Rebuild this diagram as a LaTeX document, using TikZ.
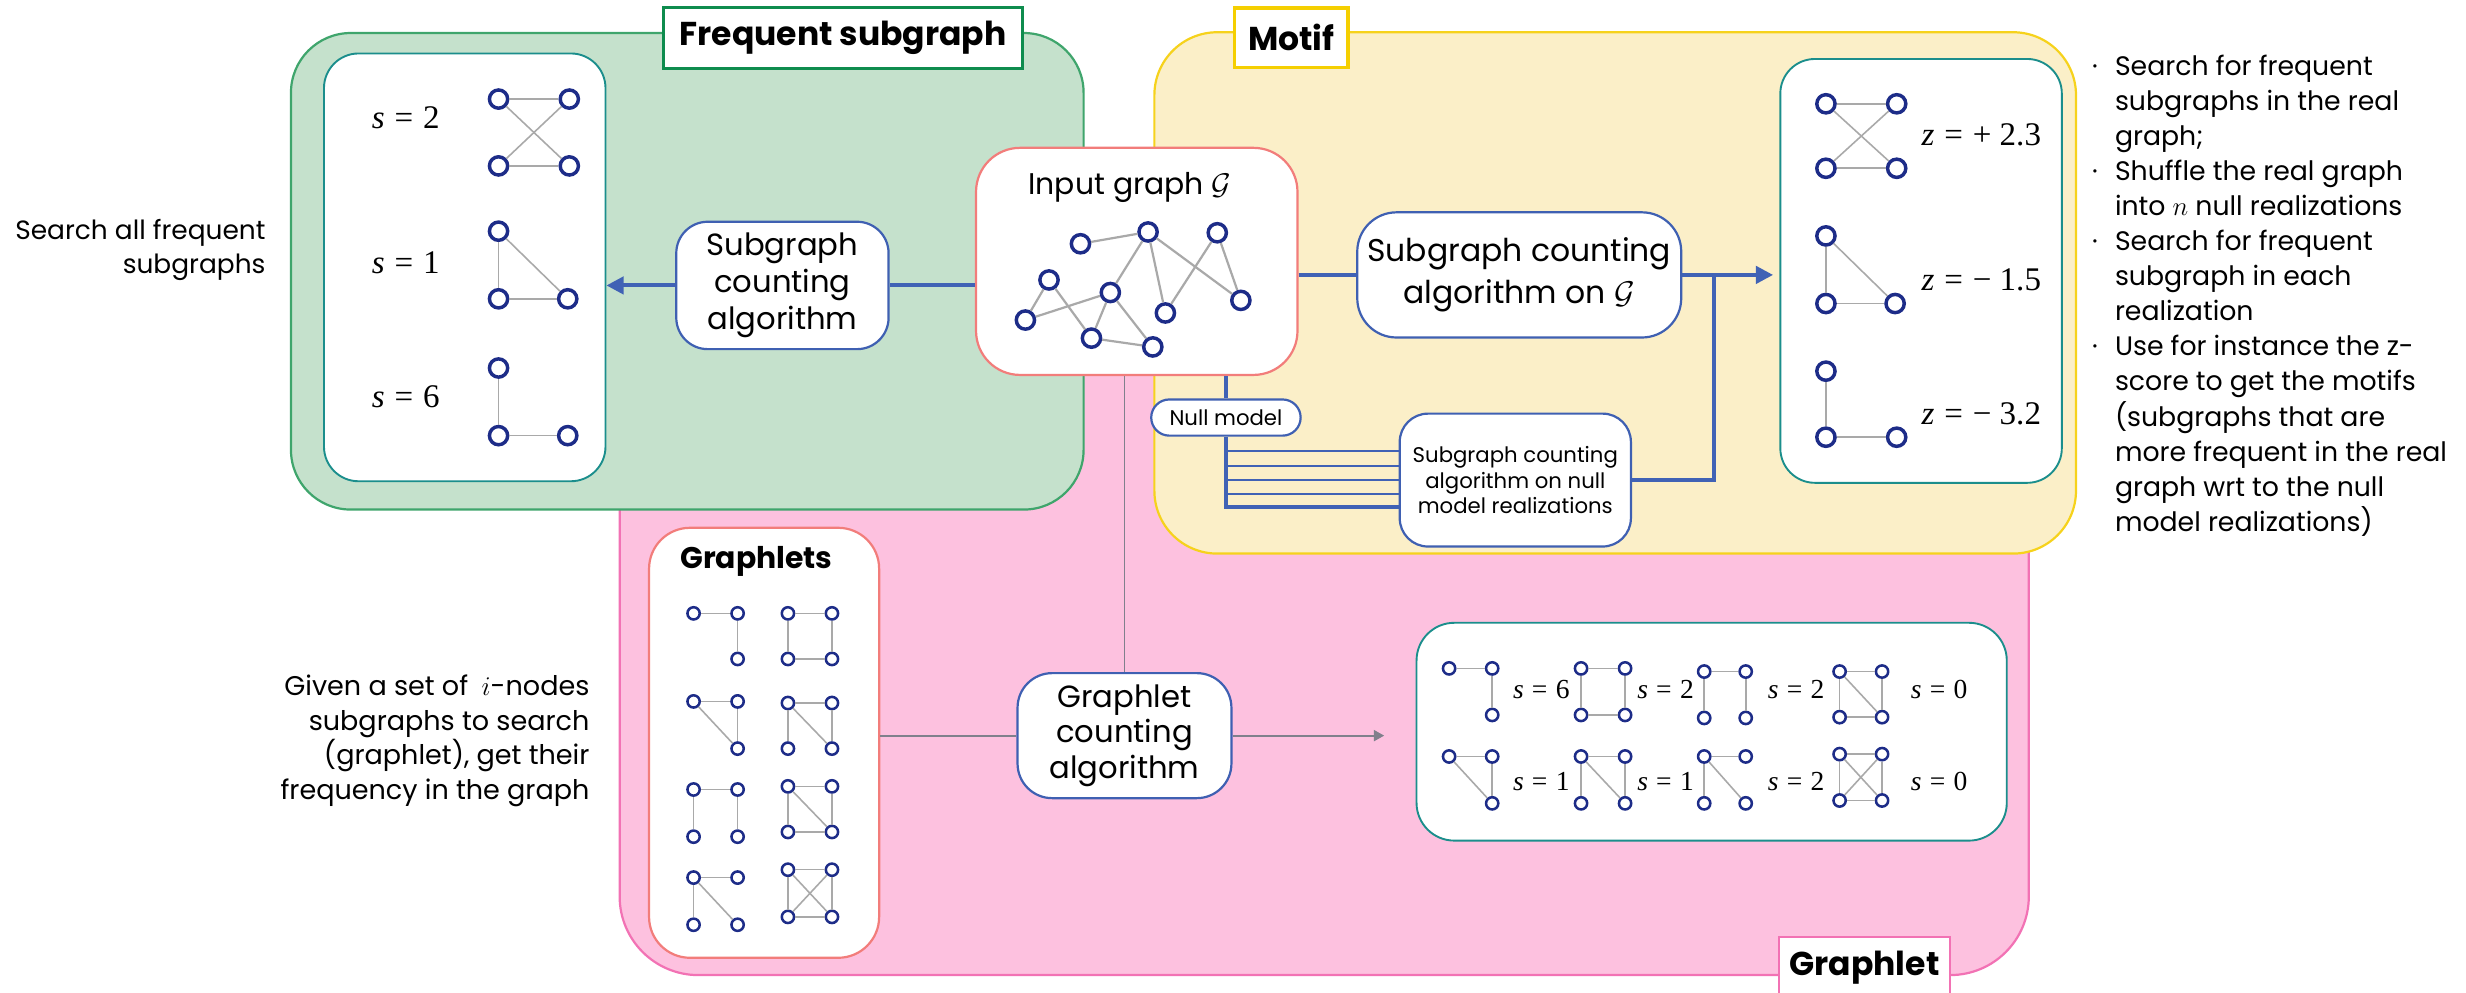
\RequirePackage{fix-cm}
\documentclass[tikz,border=0pt]{standalone}
\usepackage{fontspec}
\setmainfont{Poppins}
\newfontfamily\tms{Liberation Serif}
\usetikzlibrary{arrows.meta}

\definecolor{grfill}{HTML}{C5E1CC}
\definecolor{grline}{HTML}{3FA56C}
\definecolor{grlab}{HTML}{0E8C4E}
\definecolor{yefill}{HTML}{FBEFC8}
\definecolor{yeline}{HTML}{F6D21C}
\definecolor{yelab}{HTML}{F5CF00}
\definecolor{pkfill}{HTML}{FDC1DF}
\definecolor{pkline}{HTML}{F272B4}
\definecolor{cardline}{HTML}{1B8E8C}
\definecolor{salmon}{HTML}{F27D7B}
\definecolor{bluebox}{HTML}{3F60B2}
\definecolor{bluearr}{HTML}{4062B5}
\definecolor{navy}{HTML}{1D2C88}
\definecolor{edgegray}{HTML}{A9A9A9}
\definecolor{linegray}{HTML}{80808C}

% small graph on a 2x2 grid: name, node style, x-left, x-right, y-top, y-bottom, corners, edges
\newcommand\sqgraph[8]{%
  \coordinate (#1a-p) at (#3,#5);
  \coordinate (#1b-p) at (#4,#5);
  \coordinate (#1c-p) at (#3,#6);
  \coordinate (#1d-p) at (#4,#6);
  \foreach \k in {#7} \node[#2] (#1\k) at (#1\k-p) {};
  \foreach \u/\v in {#8} \draw[se] (#1\u) -- (#1\v);
}
% "var = value" set in a Times-like face
\newcommand\eqlab[2]{{\itshape #1}\hspace{0.3em}=\hspace{0.3em}#2}

\tikzset{
  area/.style={rectangle, inner sep=0pt, line width=1.4pt},
  tag/.style={rectangle, draw, fill=white, line width=2.2pt, inner sep=0pt,
    font=\fontsize{21}{24}\selectfont\bfseries},
  card/.style={rectangle, draw=cardline, fill=white, line width=1.2pt, inner sep=0pt},
  stepbox/.style={rectangle, draw=bluebox, fill=white, line width=1.4pt, inner sep=0pt, align=center},
  gn/.style={circle, draw=navy, fill=white, line width=2.2pt, minimum size=11.6pt, inner sep=0pt},
  sn/.style={circle, draw=navy, fill=white, line width=1.6pt, minimum size=7.8pt, inner sep=0pt},
  ge/.style={draw=edgegray, line width=1.4pt},
  se/.style={draw=edgegray, line width=1pt},
  flow/.style={draw=bluearr, line width=2.5pt},
  gline/.style={draw=linegray, line width=1.1pt},
  note/.style={inner sep=0pt, text=black, font=\fontsize{17}{22.3}\selectfont},
  slab/.style={inner sep=0pt, font=\tms\fontsize{21}{24}\selectfont},
  rlab/.style={inner sep=0pt, font=\tms\fontsize{17.5}{20}\selectfont},
  blue tip/.style={-{Triangle[length=11pt,width=11pt]}},
}

\begin{document}
\begin{tikzpicture}[x=1pt,y=-1pt]
\useasboundingbox (0,0) rectangle (1568,631);
\clip (0,0) rectangle (1568,631);

% ---- the three method regions
\node[area, draw=pkline, fill=pkfill, rounded corners=50pt,
  minimum width=896pt, minimum height=500pt] (graphletarea) at (842,370) {};
\node[area, draw=grline, fill=grfill, rounded corners=38pt,
  minimum width=504pt, minimum height=303pt] (fsarea) at (437,172.5) {};
\node[area, draw=yeline, fill=yefill, rounded corners=40pt,
  minimum width=586pt, minimum height=331.5pt] (motifarea) at (1027,186.25) {};

\node[tag, draw=grlab, minimum width=228pt, minimum height=38.8pt] (fslabel) at (536,24.1) {Frequent subgraph};
\node[tag, draw=yelab, minimum width=72pt, minimum height=38pt] (motiflabel) at (821,24) {Motif};
\node[tag, draw=pkline, line width=1.4pt, minimum width=109pt, minimum height=38pt] (gllabel) at (1185.5,615) {Graphlet};

% ---- cards holding the small graphs
\node[card, rounded corners=22pt, minimum width=179pt, minimum height=272pt] (fscard) at (295.5,170) {};
\node[card, rounded corners=22pt, minimum width=179pt, minimum height=269.5pt] (motifcard) at (1221.5,172.25) {};
\node[card, rounded corners=24pt, minimum width=375.3pt, minimum height=138.5pt] (rescard) at (1088.35,465.25) {};
\node[rectangle, draw=salmon, fill=white, line width=1.4pt, rounded corners=26pt, inner sep=0pt,
  minimum width=146.3pt, minimum height=273.4pt] (glcard) at (485.85,472.3) {};
\node[rectangle, draw=salmon, fill=white, line width=1.4pt, rounded corners=28pt, inner sep=0pt,
  minimum width=204.4pt, minimum height=144.4pt] (input) at (722.8,166.2) {};

% ---- algorithm boxes
\node[stepbox, rounded corners=20pt, minimum width=135pt, minimum height=81pt,
  font=\fontsize{19.5}{23.5}\selectfont] (countfs) at (497.5,181.5) {Subgraph\\counting\\algorithm};
\node[stepbox, rounded corners=25pt, minimum width=206pt, minimum height=79.6pt,
  font=\fontsize{20}{27}\selectfont] (countmotif) at (966,174.8) {Subgraph counting\\algorithm on $\mathcal{G}$};
\node[stepbox, rounded corners=11.5pt, minimum width=95pt, minimum height=23pt,
  font=\fontsize{13.5}{16}\selectfont] (nullmodel) at (779.5,265.5) {Null model};
\node[stepbox, rounded corners=18pt, minimum width=147pt, minimum height=84.5pt,
  font=\fontsize{13.5}{16.2}\selectfont] (countnull) at (963.5,305.25) {Subgraph counting\\algorithm on null\\model realizations};
\node[stepbox, rounded corners=22pt, minimum width=136pt, minimum height=79.5pt,
  font=\fontsize{19.5}{22.5}\selectfont] (countgl) at (715,467.75) {Graphlet\\counting\\algorithm};

% ---- connectors
\draw[flow] (input.west |- countfs.east) -- (countfs.east);
\draw[flow, blue tip] (countfs.west) -- (fscard.east |- countfs.west);
\draw[flow] (countmotif.west -| input.east) -- (countmotif.west);
\coordinate (join) at (1090,174.8);
\draw[flow, blue tip, shorten >=4pt] (countmotif.east) -- (motifcard.west |- countmotif.east);
\draw[flow] (countnull.east) -| (join);
\draw[flow] (nullmodel.north) -- (nullmodel.north |- input.south);
\coordinate (nmfoot) at (779.5,322.5);
\draw[flow] (nullmodel.south) -- (nmfoot) -- (nmfoot -| countnull.west);
\foreach \yy in {287,296.5,305,314}
  \draw[flow, line width=1.4pt] (nullmodel.south |- 0,\yy) -- (countnull.west |- 0,\yy);
\draw[gline] (countgl.north) -- (countgl.north |- input.south);
\draw[gline] (glcard.east |- countgl.west) -- (countgl.west);
\draw[gline, -{Triangle[length=6.5pt,width=7pt]}, shorten >=20pt] (countgl.east) -- (countgl.east -| rescard.west);

% ---- input graph
\node[inner sep=0pt, font=\fontsize{19}{22}\selectfont] (inputtitle) at (718.5,119.5) {Input graph $\mathcal{G}$};
\foreach \n/\x/\y in {1/687/155, 2/730/147.5, 3/774/148, 4/667/178, 5/706/186,
                      6/789/191, 7/652/203.5, 8/741/199, 9/694/215, 10/733/220.6}
  \node[gn] (in\n) at (\x,\y) {};
\foreach \u/\v in {1/2,2/5,2/8,2/6,3/8,3/6,4/7,4/9,7/5,5/9,5/10,9/10}
  \draw[ge] (in\u) -- (in\v);

% ---- frequent subgraphs
\sqgraph{fa}{gn}{317}{362}{63}{105.5}{a,b,c,d}{a/b,c/d,a/d,b/c}
\sqgraph{fb}{gn}{317}{361}{147}{190}{a,c,d}{a/c,c/d,a/d}
\sqgraph{fc}{gn}{317}{361}{234}{277}{a,c,d}{a/c,c/d}
\node[slab] (fsa) at (258,75) {\eqlab{s}{2}};
\node[slab] (fsb) at (258,167) {\eqlab{s}{1}};
\node[slab] (fsc) at (258,252) {\eqlab{s}{6}};

% ---- motifs
\sqgraph{ma}{gn}{1161}{1206}{66}{107}{a,b,c,d}{a/b,c/d,a/d,b/c}
\sqgraph{mb}{gn}{1161}{1205}{150}{193}{a,c,d}{a/c,c/d,a/d}
\sqgraph{mz}{gn}{1161}{1206}{236}{278}{a,c,d}{a/c,c/d}
\node[slab, anchor=west] (mza) at (1221.6,86) {\eqlab{z}{+\hspace{0.25em}2.3}};
\node[slab, anchor=west] (mzb) at (1221.6,178) {\eqlab{z}{\char"2212\hspace{0.25em}1.5}};
\node[slab, anchor=west] (mzc) at (1221.6,263) {\eqlab{z}{\char"2212\hspace{0.25em}3.2}};

% ---- graphlet catalogue
\node[inner sep=0pt, font=\fontsize{19}{22}\selectfont\bfseries] (gltitle) at (481,357) {Graphlets};
\sqgraph{ga}{sn}{441}{469}{390}{419}{a,b,d}{a/b,b/d}
\sqgraph{gb}{sn}{441}{469}{446}{476}{a,b,d}{a/b,b/d,a/d}
\sqgraph{gc}{sn}{441}{469}{502}{532}{a,b,c,d}{a/b,a/c,b/d}
\sqgraph{gd}{sn}{441}{469}{558}{588}{a,b,c,d}{a/b,a/c,a/d}
\sqgraph{ha}{sn}{501}{529}{390}{419}{a,b,c,d}{a/b,a/c,b/d,c/d}
\sqgraph{hb}{sn}{501}{529}{447}{476}{a,b,c,d}{a/b,a/c,b/d,a/d}
\sqgraph{hc}{sn}{501}{529}{500}{529}{a,b,c,d}{a/b,a/c,b/d,c/d,a/d}
\sqgraph{hd}{sn}{501}{529}{553}{583}{a,b,c,d}{a/b,a/c,b/d,c/d,a/d,b/c}

% ---- graphlet counts
\sqgraph{ra}{sn}{921.4}{948.8}{425}{454.6}{a,b,d}{a/b,b/d}
\sqgraph{rb}{sn}{1005.3}{1033.3}{425}{454.6}{a,b,c,d}{a/b,a/c,b/d,c/d}
\sqgraph{rc}{sn}{1083.6}{1110}{427}{456.5}{a,b,c,d}{a/b,a/c,b/d}
\sqgraph{rd}{sn}{1169.7}{1196.7}{427}{456}{a,b,c,d}{a/b,a/c,b/d,c/d,a/d}
\sqgraph{qa}{sn}{921.4}{948.8}{481}{510.8}{a,b,d}{a/b,b/d,a/d}
\sqgraph{qb}{sn}{1005.3}{1033.3}{481}{510.8}{a,b,c,d}{a/b,a/c,b/d,a/d}
\sqgraph{qc}{sn}{1083.6}{1110}{481}{510.8}{a,b,c,d}{a/b,a/c,a/d}
\sqgraph{qd}{sn}{1169.7}{1196.7}{479.5}{509}{a,b,c,d}{a/b,a/c,b/d,c/d,a/d,b/c}
\node[rlab] (rsa) at (980,438.7) {\eqlab{s}{6}};
\node[rlab] (rsb) at (1059,438.7) {\eqlab{s}{2}};
\node[rlab] (rsc) at (1142,438.7) {\eqlab{s}{2}};
\node[rlab] (rsd) at (1233,438.7) {\eqlab{s}{0}};
\node[rlab] (qsa) at (980,497) {\eqlab{s}{1}};
\node[rlab] (qsb) at (1059,497) {\eqlab{s}{1}};
\node[rlab] (qsc) at (1142,497) {\eqlab{s}{2}};
\node[rlab] (qsd) at (1233,497) {\eqlab{s}{0}};

% ---- side notes
\node[note, anchor=east, align=right, font=\fontsize{16.8}{22}\selectfont] (fsnote) at (169,159)
  {Search all frequent\\subgraphs};
\node[note, anchor=east, align=right, font=\fontsize{17.2}{22}\selectfont] (glnote) at (375,471)
  {Given a set of\enspace$i$-nodes\\subgraphs to search\\(graphlet), get their\\frequency in the graph};
\node[note, anchor=north west] (motifnote) at (1330,32) {%
  \begin{tabular}{@{}c@{\hspace{11pt}}l@{}}
  \textperiodcentered & Search for frequent\\
   & subgraphs in the real\\
   & graph;\\
  \textperiodcentered & Shuffle the real graph\\
   & into $n$ null realizations\\
  \textperiodcentered & Search for frequent\\
   & subgraph in each\\
   & realization\\
  \textperiodcentered & Use for instance the z-\\
   & score to get the motifs\\
   & (subgraphs that are\\
   & more frequent in the real\\
   & graph wrt to the null\\
   & model realizations)
  \end{tabular}};
\end{tikzpicture}
\end{document}
